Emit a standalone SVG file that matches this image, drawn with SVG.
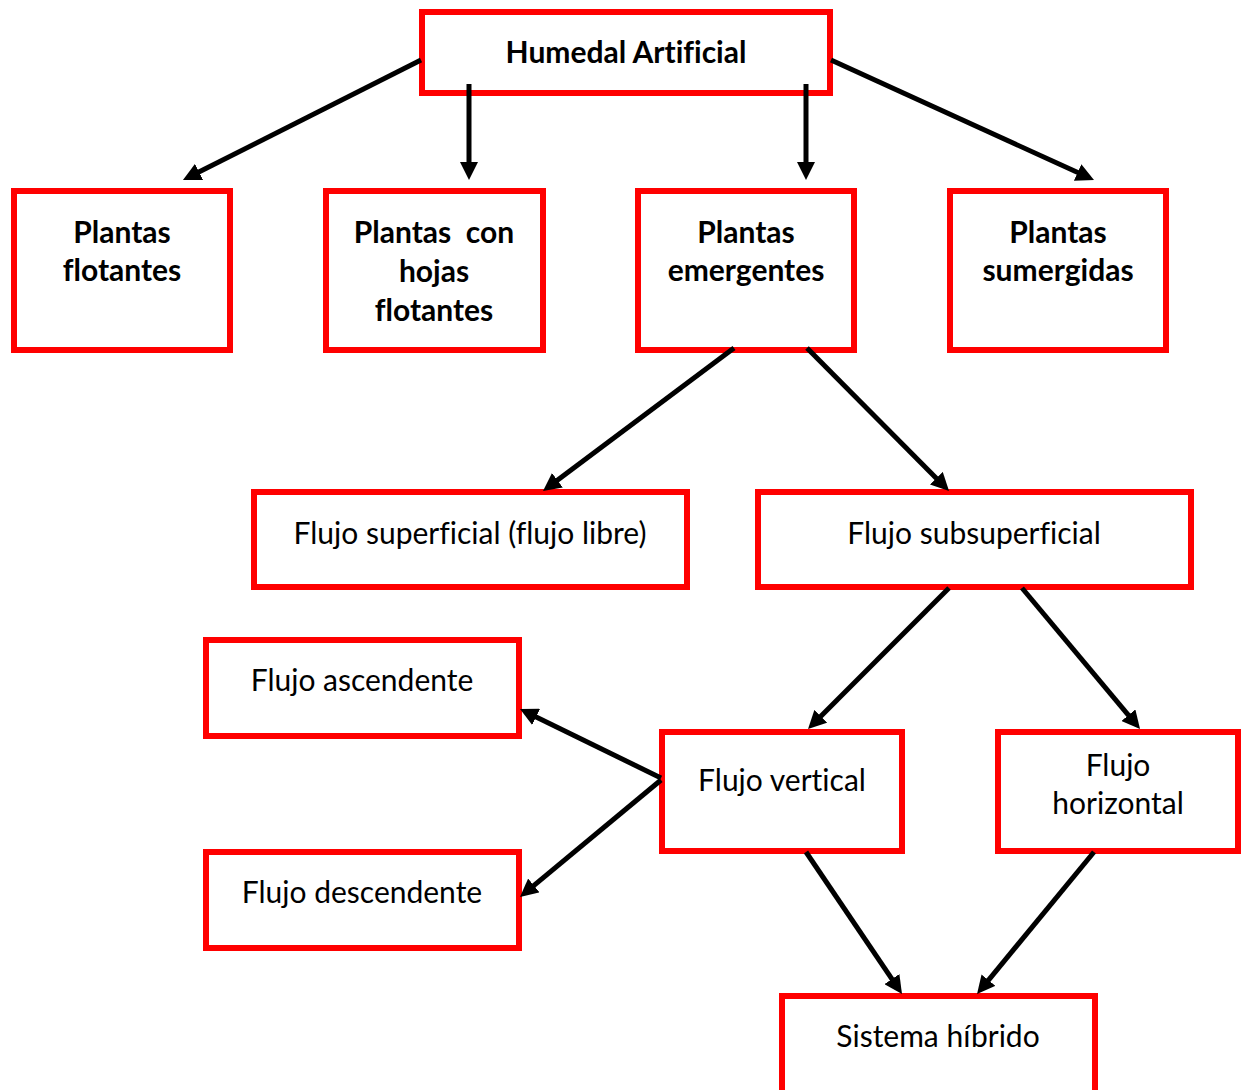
<svg xmlns="http://www.w3.org/2000/svg" width="1242" height="1090" viewBox="0 0 1242 1090">
<style>
.box{fill:#ffffff;stroke:#ff0000;stroke-width:6}
.t{font-family:Lato,"Open Sans","Liberation Sans",sans-serif;font-size:30px;fill:#000;text-anchor:middle;font-variant-ligatures:none}
.b{font-weight:bold}
.c{stroke:#000;stroke-width:5;fill:none;marker-end:url(#ah)}
</style>
<defs>
<marker id="ah" markerUnits="userSpaceOnUse" markerWidth="18" markerHeight="18" refX="8" refY="9" orient="auto">
<path d="M0,0 L18,9 L0,18 z" fill="#000"/>
</marker>
</defs>
<rect width="1242" height="1090" fill="#fff"/>
<g id="humedal"><rect class="box" x="422" y="12" width="408" height="81"/><text class="t b" x="626" y="63">Humedal Artificial</text></g>
<g id="plantas-flotantes"><rect class="box" x="14" y="191" width="216" height="159"/><text class="t b" x="122" y="243">Plantas</text><text class="t b" x="122" y="281">flotantes</text></g>
<g id="plantas-hojas"><rect class="box" x="326" y="191" width="217" height="159"/><text class="t b" x="434" y="243" xml:space="preserve">Plantas  con</text><text class="t b" x="434" y="282">hojas</text><text class="t b" x="434" y="321">flotantes</text></g>
<g id="plantas-emergentes"><rect class="box" x="638" y="191" width="216" height="159"/><text class="t b" x="746" y="243">Plantas</text><text class="t b" x="746" y="281">emergentes</text></g>
<g id="plantas-sumergidas"><rect class="box" x="950" y="191" width="216" height="159"/><text class="t b" x="1058" y="243">Plantas</text><text class="t b" x="1058" y="281">sumergidas</text></g>
<g id="flujo-superficial"><rect class="box" x="254" y="492" width="433" height="95"/><text class="t" x="470" y="544">Flujo superficial (flujo libre)</text></g>
<g id="flujo-subsuperficial"><rect class="box" x="758" y="492" width="433" height="95"/><text class="t" x="974" y="544">Flujo subsuperficial</text></g>
<g id="flujo-ascendente"><rect class="box" x="206" y="640" width="313" height="96"/><text class="t" x="362" y="691">Flujo ascendente</text></g>
<g id="flujo-vertical"><rect class="box" x="662" y="732" width="240" height="119"/><text class="t" x="782" y="791">Flujo vertical</text></g>
<g id="flujo-horizontal"><rect class="box" x="998" y="732" width="240" height="119"/><text class="t" x="1118" y="776">Flujo</text><text class="t" x="1118" y="814">horizontal</text></g>
<g id="flujo-descendente"><rect class="box" x="206" y="852" width="313" height="96"/><text class="t" x="362" y="903">Flujo descendente</text></g>
<g id="sistema-hibrido"><rect class="box" x="782" y="996" width="313" height="100"/><text class="t" x="938" y="1047">Sistema híbrido</text></g>
<g id="connectors">
<line class="c" x1="421" y1="60" x2="191.9" y2="175.5"/>
<line class="c" x1="469" y1="84" x2="469" y2="170"/>
<line class="c" x1="806" y1="84" x2="806" y2="170"/>
<line class="c" x1="831" y1="60" x2="1084.9" y2="175.8"/>
<line class="c" x1="734" y1="348" x2="551" y2="485"/>
<line class="c" x1="807" y1="348" x2="942" y2="483.9"/>
<line class="c" x1="949" y1="588" x2="815.1" y2="721.9"/>
<line class="c" x1="1022" y1="588" x2="1133.6" y2="721.3"/>
<line class="c" x1="661" y1="778" x2="529" y2="713.4"/>
<line class="c" x1="661" y1="780" x2="527.7" y2="890.6"/>
<line class="c" x1="806" y1="852" x2="896.4" y2="985.7"/>
<line class="c" x1="1094" y1="852" x2="983.4" y2="986.3"/>
</g>
</svg>
